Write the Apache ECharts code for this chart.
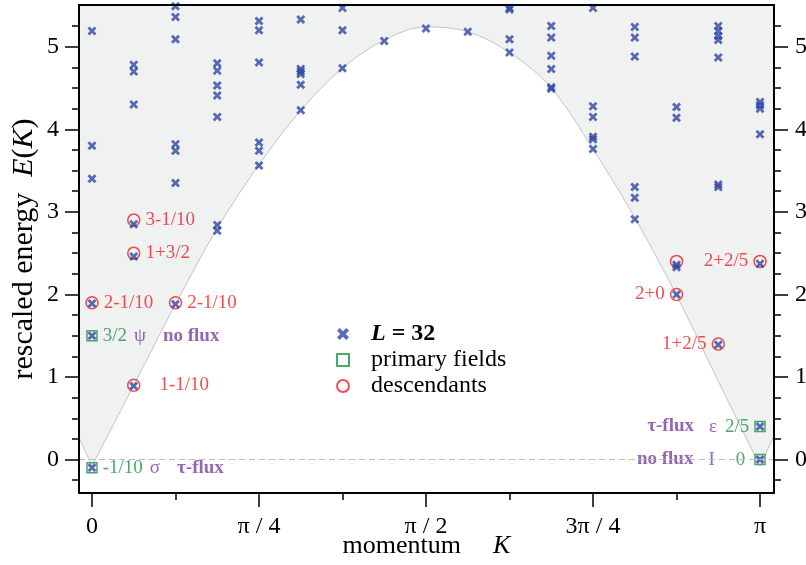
<!DOCTYPE html>
<html>
<head>
<meta charset="utf-8">
<script src="https://cdn.jsdelivr.net/npm/echarts@6/dist/echarts.min.js"></script>
<style>
  html, body { margin: 0; padding: 0; background: #fff; }
  #chart { width: 806px; height: 565px; }
</style>
</head>
<body>
<div id="chart"></div>
<script>
// momentum is stored as n, with K = n * pi / 16
var spectrum = [
  [5.19, 3.80, 3.40, 1.89, 1.50, -0.10],
  [4.78, 4.70, 4.30, 2.85, 2.46, 0.89],
  [5.49, 5.36, 5.09, 3.82, 3.74, 3.35, 1.88],
  [4.80, 4.71, 4.53, 4.41, 4.15, 2.84, 2.77],
  [5.31, 5.20, 4.81, 3.84, 3.74, 3.56],
  [5.33, 4.73, 4.70, 4.67, 4.54, 4.23],
  [5.47, 5.20, 4.74],
  [5.07],
  [5.22],
  [5.18],
  [5.47, 5.45, 5.09, 4.93],
  [5.25, 5.11, 4.89, 4.73, 4.51, 4.49],
  [5.47, 4.28, 4.15, 3.91, 3.88, 3.76],
  [5.24, 5.11, 4.88, 3.30, 3.17, 2.91],
  [4.27, 4.14, 2.36, 2.33, 2.00],
  [5.25, 5.19, 5.13, 5.08, 4.87, 3.33, 3.30, 1.39],
  [4.33, 4.29, 4.25, 3.94, 2.37, 0.40, 0.00]
];

var primaryK = [0, 0, 16, 16];
var primaryE = [1.5, -0.1, 0.4, 0];
var primaryWeight = ['3/2', '-1/10', '2/5', '0'];
var primaryField = ['ψ', 'σ', 'ε', 'I'];
var primaryFlux = ['no flux', 'τ-flux', 'τ-flux', 'no flux'];

var descK = [0, 1, 1, 2, 1, 14, 14, 15, 16];
var descE = [1.9, 2.9, 2.5, 1.9, 0.9, 2.4, 2.0, 1.4, 2.4];
var descText = ['2-1/10', '3-1/10', '1+3/2', '2-1/10', '1-1/10', '', '2+0', '1+2/5', '2+2/5'];

var boundaryK = [-0.311, 0, 1, 2, 3, 4, 5, 6, 7, 8, 9, 10, 11, 12, 13, 14, 15, 16, 16.335];
var boundaryE = [0.27, -0.08, 0.90, 1.88, 2.80, 3.57, 4.23, 4.74, 5.08, 5.24, 5.18, 4.93, 4.50, 3.76, 2.93, 1.99, 0.95, -0.08, 0.29];

var xTickPos = [0, 4, 8, 12, 16];
var xTickLabels = ['0', 'π / 4', 'π / 2', '3π / 4', 'π'];
var xMinorPos = [2, 6, 10, 14];
var yTickPos = [0, 1, 2, 3, 4, 5];
var yMinorPos = [-0.25, 0.25, 0.5, 0.75, 1.25, 1.5, 1.75, 2.25, 2.5, 2.75, 3.25, 3.5, 3.75, 4.25, 4.5, 4.75, 5.25];

var serif = '"Liberation Serif", "Times New Roman", serif';
var blue = '#2f47a6', red = '#f01e24', green = '#1f9048', purple = '#7a409e';
var xMin = -0.311, xMax = 16.335, yMin = -0.405, yMax = 5.505;

var crossData = [];
spectrum.forEach(function (col, n) {
  col.forEach(function (e) { crossData.push([n, e]); });
});

var boundaryPts = boundaryK.map(function (k, i) { return [k, boundaryE[i]]; });

var descData = descK.map(function (k, i) {
  var right = k < 8;
  return {
    value: [k, descE[i]],
    label: {
      show: descText[i] !== '',
      position: right ? 'right' : 'left',
      distance: descText[i] === '1-1/10' ? 19 : 5,
      formatter: descText[i]
    }
  };
});

var primData = primaryK.map(function (k, i) {
  var right = k < 8;
  var txt;
  if (right) {
    txt = '{w|' + primaryWeight[i] + '}{f|' + primaryField[i] + '}{x|' + primaryFlux[i] + '}';
  } else if (primaryWeight[i] === '0') {
    txt = '{x|' + primaryFlux[i] + '}{f2|' + primaryField[i] + '}{w3|' + primaryWeight[i] + '}';
  } else {
    txt = '{x|' + primaryFlux[i] + '}{f2|' + primaryField[i] + '}{w2|' + primaryWeight[i] + '}';
  }
  return {
    value: [k, primaryE[i]],
    label: {
      show: true,
      position: right ? 'right' : 'left',
      distance: right ? 5 : (primaryWeight[i] === '0' ? 9 : 5),
      formatter: txt
    }
  };
});

var crossPath = 'path://M0,2.2L2.2,0L5,2.8L7.8,0L10,2.2L7.2,5L10,7.8L7.8,10L5,7.2L2.2,10L0,7.8L2.8,5Z';

var areaSeries = function (pts, smooth, extra) {
  var s = {
    type: 'line',
    data: pts,
    smooth: smooth,
    symbol: 'none',
    silent: true,
    z: 1,
    lineStyle: { color: '#c4c4c4', width: 1 },
    areaStyle: { origin: 'end', color: '#f0f1f1', opacity: 1 }
  };
  if (extra) s.markLine = extra;
  return s;
};

var minorY = function (pos) {
  return {
    type: 'value', min: yMin, max: yMax, position: pos, z: 10,
    axisLine: { show: false, onZero: false },
    axisTick: { show: true, customValues: yMinorPos, length: 7, lineStyle: { color: '#000', width: 1.5 } },
    axisLabel: { show: false },
    splitLine: { show: false }
  };
};

var majorY = function (pos, margin) {
  return {
    type: 'value', min: yMin, max: yMax, position: pos, z: 10,
    axisLine: { show: true, onZero: false, lineStyle: { color: '#000', width: 2 } },
    axisTick: { show: true, customValues: yTickPos, length: 14, lineStyle: { color: '#000', width: 1.5 } },
    axisLabel: { customValues: yTickPos, margin: margin, fontFamily: serif, fontSize: 24, color: '#000' },
    splitLine: { show: false }
  };
};

var yLeft = majorY('left', 20);
yLeft.name = '{n|rescaled energy}{e|E}{n|(}{i|K}{n|)}';
yLeft.nameLocation = 'middle';
yLeft.nameGap = 40;
yLeft.nameMoveOverlap = false;
yLeft.nameTextStyle = {
  rich: {
    n: { fontFamily: serif, fontSize: 30, color: '#000' },
    e: { fontFamily: serif, fontSize: 30, fontStyle: 'italic', color: '#000', padding: [0, 0, 0, 16] },
    i: { fontFamily: serif, fontSize: 30, fontStyle: 'italic', color: '#000' }
  }
};

var chart = echarts.init(document.getElementById('chart'));
chart.setOption({
  animation: false,
  backgroundColor: '#fff',
  grid: { left: 79, right: 32, top: 5, bottom: 72, outerBoundsMode: 'none', containLabel: false },
  legend: {
    orient: 'vertical',
    left: 331,
    top: 316,
    itemWidth: 12,
    itemHeight: 12,
    itemGap: 0,
    data: ['L = 32', 'primary fields', 'descendants'],
    formatter: function (name) {
      return name === 'L = 32' ? '{li|L}{lb| = 32}' : name;
    },
    textStyle: {
      fontFamily: serif, fontSize: 24, color: '#000', lineHeight: 26,
      padding: [0, 0, 0, 17],
      rich: {
        li: { fontFamily: serif, fontSize: 24, fontWeight: 'bold', fontStyle: 'italic', color: '#000' },
        lb: { fontFamily: serif, fontSize: 24, fontWeight: 'bold', color: '#000' }
      }
    }
  },
  xAxis: [{
    type: 'value', min: xMin, max: xMax, position: 'bottom', z: 10,
    name: '{n|momentum}{i|K}', nameLocation: 'middle', nameGap: 40, nameMoveOverlap: false,
    nameTextStyle: {
      rich: {
        n: { fontFamily: serif, fontSize: 26, color: '#000' },
        i: { fontFamily: serif, fontSize: 26, fontStyle: 'italic', color: '#000', padding: [0, 0, 0, 32] }
      }
    },
    axisLine: { show: true, onZero: false, lineStyle: { color: '#000', width: 2 } },
    axisTick: { show: true, customValues: xTickPos, length: 14, lineStyle: { color: '#000', width: 1.5 } },
    axisLabel: {
      customValues: xTickPos, margin: 22, fontFamily: serif, fontSize: 24, color: '#000',
      formatter: function (v) { var i = xTickPos.indexOf(v); return i < 0 ? '' : xTickLabels[i]; }
    },
    splitLine: { show: false }
  }, {
    type: 'value', min: xMin, max: xMax, position: 'bottom', z: 10,
    axisLine: { show: false, onZero: false },
    axisTick: { show: true, customValues: xMinorPos, length: 7, lineStyle: { color: '#000', width: 1.5 } },
    axisLabel: { show: false },
    splitLine: { show: false }
  }, {
    type: 'value', min: xMin, max: xMax, position: 'top', z: 10,
    axisLine: { show: true, onZero: false, lineStyle: { color: '#000', width: 2 } },
    axisTick: { show: false },
    axisLabel: { show: false },
    splitLine: { show: false }
  }],
  yAxis: [yLeft, minorY('left'), majorY('right', 21), minorY('right')],
  series: [
    areaSeries(boundaryPts.slice(0, 2), false),
    areaSeries(boundaryPts.slice(1, boundaryPts.length - 1), 0.35, {
      silent: true,
      symbol: ['none', 'none'],
      label: { show: false },
      lineStyle: { color: '#bdbdbd', type: [6, 4], width: 1 },
      data: [{ yAxis: 0 }]
    }),
    areaSeries(boundaryPts.slice(boundaryPts.length - 2), false),
    {
      name: 'descendants',
      type: 'scatter',
      z: 3,
      symbol: 'circle',
      symbolSize: 12,
      itemStyle: { color: 'rgba(0,0,0,0)', borderColor: red, borderWidth: 1.5 },
      label: { fontFamily: serif, fontSize: 19, color: red },
      data: descData
    },
    {
      name: 'primary fields',
      type: 'scatter',
      z: 3,
      symbol: 'rect',
      symbolSize: 10,
      itemStyle: { color: 'rgba(0,0,0,0)', borderColor: green, borderWidth: 1.5 },
      label: {
        fontFamily: serif, fontSize: 19,
        rich: {
          w: { fontFamily: serif, fontSize: 19, color: green },
          w2: { fontFamily: serif, fontSize: 19, color: green, padding: [0, 0, 0, 8] },
          w3: { fontFamily: serif, fontSize: 19, color: green, padding: [0, 0, 0, 21] },
          f: { fontFamily: serif, fontSize: 19, color: purple, padding: [0, 0, 0, 7] },
          f2: { fontFamily: serif, fontSize: 19, color: purple, padding: [0, 0, 0, 15] },
          x: { fontFamily: serif, fontSize: 19, color: purple, fontWeight: 'bold', padding: [0, 0, 0, 17] }
        }
      },
      data: primData
    },
    {
      name: 'L = 32',
      type: 'scatter',
      z: 4,
      symbol: crossPath,
      symbolSize: 9,
      itemStyle: { color: blue },
      data: crossData
    }
  ]
});
</script>
</body>
</html>
